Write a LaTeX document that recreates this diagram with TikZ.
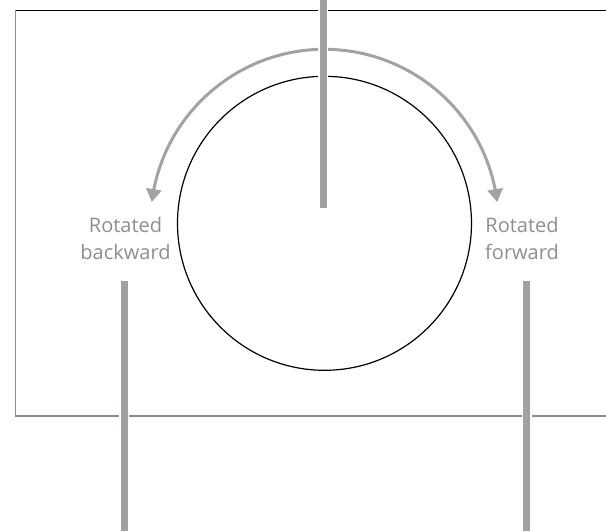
\documentclass[tikz,border=0pt]{standalone}
\usepackage{fontspec}
\setmainfont{Open Sans}
\usetikzlibrary{arrows.meta,bending}
\definecolor{bargray}{HTML}{A0A1A5}
\definecolor{arcgray}{HTML}{A3A3A6}
\definecolor{framegray}{HTML}{8C8C8C}
\definecolor{txtgray}{HTML}{8E8E8E}
\begin{document}
\begin{tikzpicture}[x=1pt,y=-1pt,
  bar/.style={line width=7.5pt,draw=bargray},
  barhalo/.style={line width=10pt,draw=white},
  lbl/.style={inner sep=0pt,align=center,text=txtgray,font=\fontsize{20}{26.6}\selectfont},
  frametop/.style={line width=1pt,draw=black},
  frameside/.style={line width=1.8pt,draw=framegray},
  rotarc/.style={line width=3pt,draw=arcgray,{Triangle[width=15pt,length=13pt,flex]}-{Triangle[width=15pt,length=13pt,flex]}}
]
\useasboundingbox (0,0) rectangle (606,531);
% frame
\coordinate (ftl) at (15.5,10.3);
\coordinate (ftr) at (606,10.3);
\coordinate (fbl) at (15.5,416);
\coordinate (fbr) at (606,416);
\draw[frameside] (ftl) -- (fbl) -- (fbr);
\draw[frametop] (ftl) -- (ftr);
% dial
\node[circle,draw=black,line width=1.2pt,minimum size=294pt,inner sep=0pt] (dial) at (324.5,223.3) {};
% rotation arc
\draw[rotarc] (dial.center) ++(187:174) arc[start angle=187,end angle=353,radius=174];
% labels
\node[lbl] (back) at (125.5,238.5) {Rotated\\backward};
\node[lbl] (fwd) at (522,238.5) {Rotated\\forward};
% bars
\coordinate (t1) at (323.3,0);
\coordinate (t2) at (323.3,207.7);
\coordinate (l1) at (124.3,281.3);
\coordinate (l2) at (124.3,531);
\coordinate (r1) at (526.5,281.3);
\coordinate (r2) at (526.5,531);
\draw[barhalo] (t1) -- (t2);
\draw[barhalo] (l1) -- (l2);
\draw[barhalo] (r1) -- (r2);
\draw[bar] (t1) -- (t2);
\draw[bar] (l1) -- (l2);
\draw[bar] (r1) -- (r2);
\end{tikzpicture}
\end{document}
